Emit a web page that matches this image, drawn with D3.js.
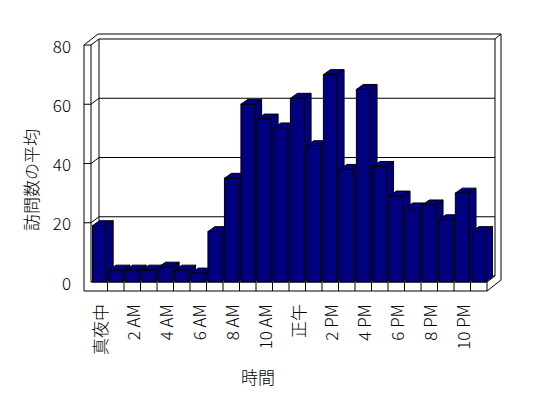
<!doctype html>
<html>
<head>
<meta charset="utf-8">
<script src="https://d3js.org/d3.v7.min.js"></script>
<style>
  body { margin: 0; background: #fff; }
  text { font-family: "Noto Sans CJK JP", "DejaVu Sans", sans-serif; font-weight: 300; fill: #000; }
</style>
</head>
<body>
<div id="chart"></div>
<script>
// hours of the day
var categories = ["真夜中","1 AM","2 AM","3 AM","4 AM","5 AM","6 AM","7 AM","8 AM","9 AM","10 AM","11 AM",
                  "正午","1 PM","2 PM","3 PM","4 PM","5 PM","6 PM","7 PM","8 PM","9 PM","10 PM","11 PM"];
// average visits per hour
var values = [19,4,4,4,5,4,3,17,35,60,55,52,62,46,70,38,65,39,29,25,26,21,30,17];
var tickLabels = ["真夜中","2 AM","4 AM","6 AM","8 AM","10 AM","正午","2 PM","4 PM","6 PM","8 PM","10 PM"];
var yTicks = [0,20,40,60,80];
var yTitle = "訪問数の平均";
var xTitle = "時間";

var width = 548, height = 398;
var svg = d3.select("#chart").append("svg").attr("width", width).attr("height", height);

var x = d3.scaleBand().domain(categories).range([91, 487]).paddingInner(0.17).paddingOuter(0.09);
var xCat = d3.scaleBand().domain(categories).range([91, 487]);
var y = d3.scaleLinear().domain([0, 80]).range([282, 45]);

var D = [8, -6];      // floor depth
var T = [6, -5];      // back wall thickness
var B = [7, -5];      // bar depth
var line = d3.line();
var stroke = "#000";

function seg(p) {
  svg.append("path").attr("d", line(p)).attr("fill", "none").attr("stroke", stroke).attr("stroke-width", 1);
}

var x0 = 84, xi = 91, xr = 487, yb = 291;
var y0 = y(0), yTop = y(80);

// outer frame (walls and floor slab)
svg.append("path")
  .attr("d", line([[x0, yb], [x0, yTop], [x0 + D[0] + T[0], yTop + D[1] + T[1]],
                   [xr + D[0] + T[0], yTop + D[1] + T[1]], [xr + D[0] + T[0], y0 + D[1] + T[1] + 9],
                   [xr, yb], [x0, yb]]))
  .attr("fill", "#fff").attr("stroke", stroke);

// back wall inner face
svg.append("path")
  .attr("d", line([[xi + D[0], yTop + D[1]], [xr + D[0], yTop + D[1]], [xr + D[0], y0 + D[1]], [xi + D[0], y0 + D[1]]]) + "Z")
  .attr("fill", "#fff").attr("stroke", stroke);

seg([[xi, y0], [xi, yTop]]);
seg([[x0, yTop], [xi, yTop], [xi + D[0], yTop + D[1]]]);
seg([[xr + D[0], yTop + D[1]], [xr + D[0] + T[0], yTop + D[1] + T[1]]]);
seg([[xi, y0], [xr, y0], [xr + D[0], y0 + D[1]]]);
seg([[xr, y0], [xr, yb]]);
seg([[xi, y0], [xi + D[0], y0 + D[1]]]);

// gridlines and ticks
yTicks.forEach(function(t) {
  var yy = y(t);
  if (t > 0 && t < 80) {
    seg([[x0, yy], [xi, yy], [xi + D[0], yy + D[1]], [xr + D[0], yy + D[1]]]);
  }
  svg.append("text").attr("x", 71).attr("y", yy).attr("text-anchor", "end")
    .attr("dominant-baseline", "central").attr("font-size", 17).text(t);
});

// floor dividers
categories.forEach(function(c, i) {
  if (i > 0) seg([[xCat(c), y0], [xCat(c), yb]]);
});

// bars
var fill = "#000080";
categories.forEach(function(c, i) {
  var bx = x(c), bw = x.bandwidth(), by = y(values[i]);
  var grp = svg.append("g").attr("stroke", stroke).attr("fill", fill).attr("stroke-linejoin", "miter");
  grp.append("path").attr("d", line([[bx + bw, by], [bx + bw + B[0], by + B[1]], [bx + bw + B[0], y0 + B[1]], [bx + bw, y0]]) + "Z");
  grp.append("path").attr("d", line([[bx, by], [bx + B[0], by + B[1]], [bx + bw + B[0], by + B[1]], [bx + bw, by]]) + "Z");
  grp.append("rect").attr("x", bx).attr("y", by).attr("width", bw).attr("height", y0 - by);
});

// x labels
tickLabels.forEach(function(t, k) {
  var c = categories[k * 2];
  var cx = xCat(c) + xCat.bandwidth() / 2;
  svg.append("text").attr("transform", "translate(" + cx + ",304) rotate(-90)")
    .attr("text-anchor", "end").attr("dominant-baseline", "central")
    .attr("font-size", 17).text(t);
});

svg.append("text").attr("transform", "translate(30,180) rotate(-90)")
  .attr("text-anchor", "middle").attr("dominant-baseline", "central")
  .attr("font-size", 17).text(yTitle);

svg.append("text").attr("x", 258).attr("y", 376).attr("text-anchor", "middle")
  .attr("dominant-baseline", "central").attr("font-size", 17).text(xTitle);
</script>
</body>
</html>
